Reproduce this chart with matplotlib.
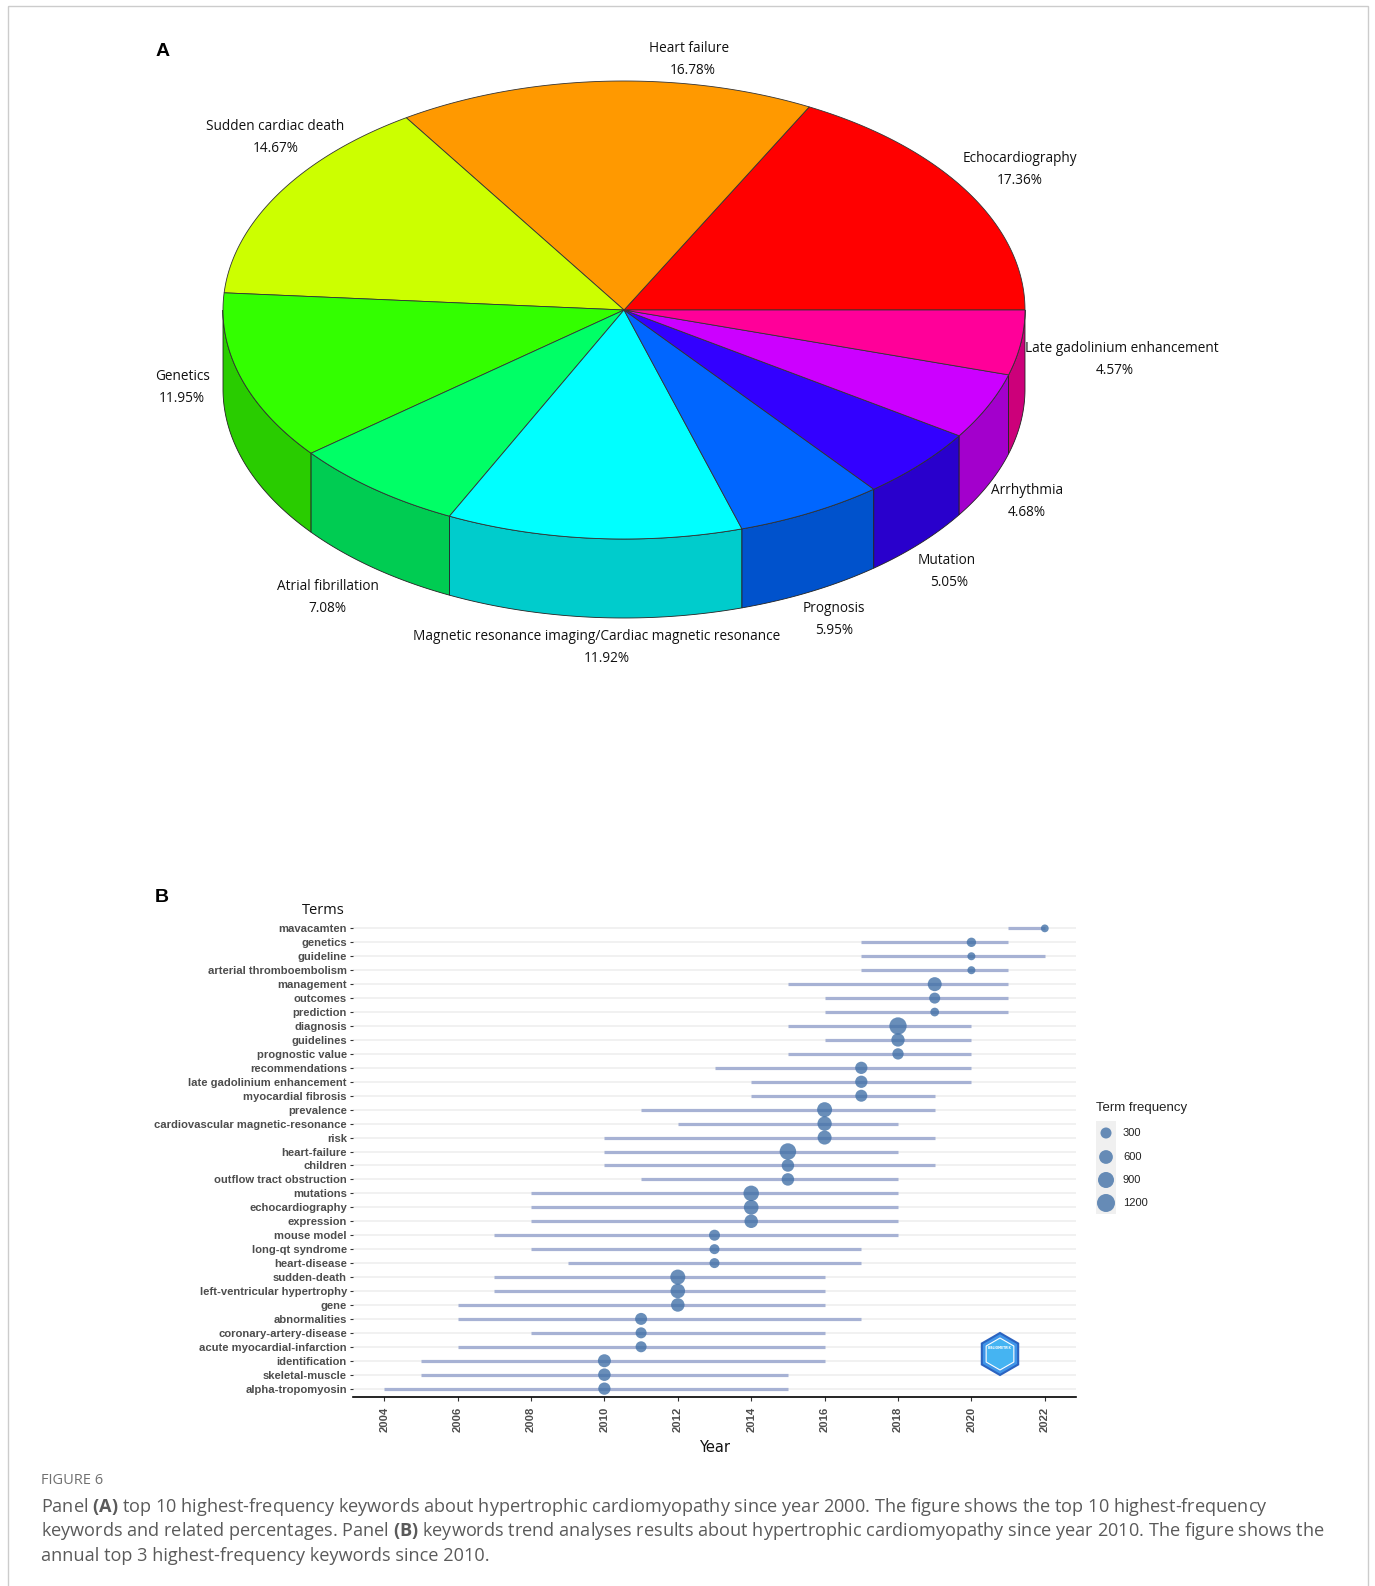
import matplotlib
matplotlib.use("Agg")
import matplotlib.pyplot as plt
import numpy as np
from matplotlib.patches import Polygon, Rectangle, RegularPolygon

plt.rcParams["mathtext.fontset"] = "custom"
plt.rcParams["mathtext.rm"] = "Open Sans"
plt.rcParams["mathtext.bf"] = "Open Sans:bold"

# ---------------- Panel A data ----------------
pie_labels = ["Echocardiography", "Heart failure", "Sudden cardiac death", "Genetics",
              "Atrial fibrillation",
              "Magnetic resonance imaging/Cardiac magnetic resonance",
              "Prognosis", "Mutation", "Arrhythmia", "Late gadolinium enhancement"]
pie_pcts = [17.36, 16.78, 14.67, 11.95, 7.08, 11.92, 5.95, 5.05, 4.68, 4.57]
pie_colors = ["#FF0000", "#FF9900", "#CCFF00", "#33FF00", "#00FF66",
              "#00FFFF", "#0066FF", "#3300FF", "#CC00FF", "#FF0099"]

# ---------------- Panel B data ----------------
terms = ["mavacamten", "genetics", "guideline", "arterial thromboembolism", "management",
         "outcomes", "prediction", "diagnosis", "guidelines", "prognostic value",
         "recommendations", "late gadolinium enhancement", "myocardial fibrosis",
         "prevalence", "cardiovascular magnetic-resonance", "risk", "heart-failure",
         "children", "outflow tract obstruction", "mutations", "echocardiography",
         "expression", "mouse model", "long-qt syndrome", "heart-disease",
         "sudden-death", "left-ventricular hypertrophy", "gene", "abnormalities",
         "coronary-artery-disease", "acute myocardial-infarction", "identification",
         "skeletal-muscle", "alpha-tropomyosin"]
year_q1 = [2021, 2017, 2017, 2017, 2015, 2016, 2016, 2015, 2016, 2015,
           2013, 2014, 2014, 2011, 2012, 2010, 2010, 2010, 2011, 2008,
           2008, 2008, 2007, 2008, 2009, 2007, 2007, 2006, 2006, 2008,
           2006, 2005, 2005, 2004]
year_med = [2022, 2020, 2020, 2020, 2019, 2019, 2019, 2018, 2018, 2018,
            2017, 2017, 2017, 2016, 2016, 2016, 2015, 2015, 2015, 2014,
            2014, 2014, 2013, 2013, 2013, 2012, 2012, 2012, 2011, 2011,
            2011, 2010, 2010, 2010]
year_q3 = [2022, 2021, 2022, 2021, 2021, 2021, 2021, 2020, 2020, 2020,
           2020, 2020, 2019, 2019, 2018, 2019, 2018, 2019, 2018, 2018,
           2018, 2018, 2018, 2017, 2017, 2016, 2016, 2016, 2017, 2016,
           2016, 2016, 2015, 2015]
term_freq = [30, 150, 45, 45, 630, 300, 100, 1090, 550, 330,
             430, 430, 400, 760, 670, 630, 970, 455, 455, 830,
             720, 570, 300, 205, 205, 760, 700, 570, 400, 300,
             300, 510, 455, 430]
legend_freq = [300, 600, 900, 1200]
x_ticks = list(range(2004, 2023, 2))

caption_title = "FIGURE 6"
caption_lines = [
    r"Panel $\mathbf{(A)}$ top 10 highest-frequency keywords about hypertrophic cardiomyopathy since year 2000. The figure shows the top 10 highest-frequency",
    r"keywords and related percentages. Panel $\mathbf{(B)}$ keywords trend analyses results about hypertrophic cardiomyopathy since year 2010. The figure shows the",
    "annual top 3 highest-frequency keywords since 2010.",
]

# ---------------- Figure ----------------
W, H = 1375, 1586
DPI = 100
fig = plt.figure(figsize=(W / DPI, H / DPI), dpi=DPI)
fig.patch.set_facecolor("white")

ov = fig.add_axes([0, 0, 1, 1])
ov.set_xlim(0, W)
ov.set_ylim(H, 0)
ov.axis("off")
ov.set_zorder(3)
ov.patch.set_alpha(0)

# outer frame
ov.add_patch(Rectangle((8, 6), 1360, 1620, fill=False, edgecolor="#CCCCCC", lw=1.0))

# ---- 3D pie ----
cx, cy, rx, ry, depth = 624, 310, 401, 229, 79
cum = np.concatenate([[0], np.cumsum(pie_pcts)])
angles = 360.0 * cum / cum[-1]


def shade(c, f=0.8):
    r, g, b = matplotlib.colors.to_rgb(c)
    return (r * f, g * f, b * f)


def arc(a0, a1, dy=0.0):
    t = np.radians(np.linspace(a0, a1, max(int(abs(a1 - a0) * 2), 4)))
    return np.column_stack([cx + rx * np.cos(t), cy - ry * np.sin(t) + dy])

# sides (front half only)
for i in range(len(pie_pcts)):
    a0, a1 = angles[i], angles[i + 1]
    s0, s1 = max(a0, 180), min(a1, 360)
    if s1 > s0:
        top = arc(s0, s1)
        bot = arc(s0, s1, depth)[::-1]
        ov.add_patch(Polygon(np.vstack([top, bot]), closed=True,
                             facecolor=shade(pie_colors[i]), edgecolor="#222222", lw=0.6))
# tops
for i in range(len(pie_pcts)):
    a0, a1 = angles[i], angles[i + 1]
    pts = np.vstack([[cx, cy], arc(a0, a1)])
    ov.add_patch(Polygon(pts, closed=True, facecolor=pie_colors[i],
                         edgecolor="#333333", lw=0.6))

label_xy = [(1020, 159), (689, 49), (275, 126), (183, 376), (328, 586),
            (597, 636), (834, 609), (947, 561), (1027, 490), (1122, 348)]
pct_xy = [(1020, 181), (693, 71), (276, 149), (182, 399), (327, 608),
          (607, 659), (834, 631), (949, 583), (1027, 512), (1115, 370)]
for i, name in enumerate(pie_labels):
    ov.text(*label_xy[i], name, ha="center", va="center", fontsize=9.8,
            family="Open Sans", color="#111111")
    ov.text(*pct_xy[i], f"{pie_pcts[i]:.2f}%", ha="center", va="center",
            fontsize=9.8, family="Open Sans", color="#111111")

ov.text(163, 51, "A", ha="center", va="center", fontsize=14, fontweight="bold",
        family="Liberation Sans")
ov.text(162, 898, "B", ha="center", va="center", fontsize=14, fontweight="bold",
        family="Liberation Sans")

# ---- Panel B ----
x_lo, x_hi = 2003.15, 2022.85
ax_left_px, ax_right_px, ax_top_px, ax_bot_px = 353, 1076, 920, 1397
axb = fig.add_axes([ax_left_px / W, 1 - ax_bot_px / H,
                    (ax_right_px - ax_left_px) / W, (ax_bot_px - ax_top_px) / H])
n = len(terms)
ypos = np.arange(n)[::-1]


def msize(v):
    return 0.5184 * (54 + 0.225 * np.asarray(v, dtype=float))

axb.hlines(ypos, x_lo, x_hi, color="#EDEDED", lw=1.1, zorder=0)
axb.hlines(ypos, year_q1, year_q3, color="#A7B2D4", lw=2.3, zorder=2)
axb.scatter(year_med, ypos, s=msize(term_freq), color="#4372A8", alpha=0.8,
            linewidths=0, zorder=3)
axb.set_xlim(x_lo, x_hi)
axb.set_ylim(-0.6, n - 0.4)
axb.set_yticks(ypos)
axb.set_yticklabels(terms, fontsize=8.1, fontweight="bold", color="#4D4D4D",
                    family="Liberation Sans")
axb.set_xticks(x_ticks)
axb.set_xticklabels([str(x) for x in x_ticks], rotation=90, fontsize=8.1,
                    fontweight="bold", color="#4D4D4D", family="Liberation Sans")
for s in ["left", "top", "right"]:
    axb.spines[s].set_visible(False)
axb.spines["bottom"].set_color("black")
axb.spines["bottom"].set_linewidth(1.2)
axb.tick_params(axis="y", length=2.5, width=0.8, color="#333333", pad=2)
axb.tick_params(axis="x", length=3, width=0.8, color="#333333", pad=4)
axb.set_xlabel("Year", fontsize=10.5, family="Liberation Sans Narrow", labelpad=6,
               color="#111111")

ov.text(345, 910, "Terms", ha="right", va="center", fontsize=10.5,
        family="Open Sans", color="#111111")

# legend
ov.text(1096, 1108, "Term frequency", ha="left", va="center", fontsize=9.5,
        family="Liberation Sans", color="#222222")
ov.add_patch(Rectangle((1096, 1121), 20, 93, facecolor="#F0F0F0", edgecolor="none"))
leg_y = [1133, 1157, 1180, 1203]
ov.scatter([1106] * len(legend_freq), leg_y, s=msize(legend_freq), color="#4372A8",
           alpha=0.8, linewidths=0, zorder=4)
for yy, v in zip(leg_y, legend_freq):
    ov.text(1123, yy, str(v), ha="left", va="center", fontsize=8.0,
            family="Liberation Sans", color="#222222")

# logo
ov.add_patch(RegularPolygon((1000, 1354), numVertices=6, radius=21, orientation=0,
                            facecolor="#3F95E8", edgecolor="#2C63C0", lw=1.5))
ov.add_patch(RegularPolygon((1000, 1354), numVertices=6, radius=16, orientation=0,
                            facecolor="#45B4F2", edgecolor="white", lw=0.8))
ov.text(1000, 1348, "BIBLIOMETRIX", ha="center", va="center", fontsize=2.2,
        color="white", fontweight="bold")

# caption
ov.text(41, 1481, caption_title, ha="left", va="center", fontsize=10.5,
        family="Open Sans", color="#707070")
for yy, line in zip([1507, 1531, 1556], caption_lines):
    ov.text(41, yy, line, ha="left", va="center", fontsize=13.1,
            family="Open Sans", color="#5A5A5A")

fig.savefig("out.png", dpi=DPI)
